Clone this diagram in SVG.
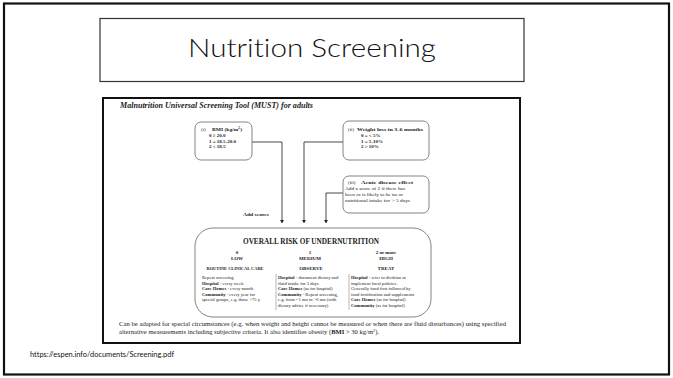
<svg xmlns="http://www.w3.org/2000/svg" width="673" height="378" viewBox="0 0 673 378">
  <style>
    .serif { font-family: "Liberation Serif", "Times New Roman", serif; fill: #222; }
    .sans { font-family: Lato, "Open Sans", "DejaVu Sans", sans-serif; fill: #111; font-variant-ligatures: none; }
    .box { fill: #fff; stroke: #777; stroke-width: 0.9; }
    .wire { fill: none; stroke: #333; stroke-width: 0.9; }
    .b { font-weight: bold; }
    .body { font-size: 4.6px; }
    .hd { font-size: 5px; font-weight: bold; text-anchor: middle; }
  </style>
  <defs>
    <marker id="arrow" viewBox="0 0 6 8" refX="6" refY="4" markerWidth="3.5" markerHeight="5" orient="auto" markerUnits="userSpaceOnUse">
      <path d="M0,0 L6,4 L0,8 Z" fill="#222"/>
    </marker>
  </defs>

  <rect width="673" height="378" fill="#fff"/>
  <!-- slide border -->
  <rect x="4" y="3.5" width="665" height="371" fill="none" stroke="#111" stroke-width="2.2"/>

  <!-- slide title -->
  <g id="title">
    <rect x="100" y="18.5" width="424" height="63" fill="#fff" stroke="#333" stroke-width="1.2"/>
    <text class="sans" x="312" y="57" font-size="26" font-weight="300" text-anchor="middle" textLength="248" lengthAdjust="spacingAndGlyphs">Nutrition Screening</text>
  </g>

  <!-- MUST figure frame -->
  <g id="must-frame">
    <rect x="103" y="98" width="417" height="245" fill="#fff" stroke="#111" stroke-width="2"/>
    <text class="serif b" x="120" y="108" font-size="7.4" font-style="italic" textLength="193" lengthAdjust="spacingAndGlyphs">Malnutrition Universal Screening Tool (MUST) for adults</text>
  </g>

  <g id="connectors">
    <path class="wire" d="M252,142 H282 V223" marker-end="url(#arrow)"/>
    <path class="wire" d="M343,142 H304 V223" marker-end="url(#arrow)"/>
    <path class="wire" d="M343,193 H326 V223" marker-end="url(#arrow)"/>
    <text class="serif b" x="243" y="216" font-size="5" textLength="26" lengthAdjust="spacingAndGlyphs">Add scores</text>
  </g>

  <g id="bmi">
    <rect class="box" x="195" y="122" width="57" height="38" rx="6"/>
    <text class="serif" x="201" y="131" font-size="5">(i)</text>
    <text class="serif b" x="212" y="131" font-size="5" textLength="30" lengthAdjust="spacingAndGlyphs">BMI (kg/m<tspan font-size="3.2" dy="-1.8">2</tspan><tspan dy="1.8">)</tspan></text>
    <text class="serif b" x="209" y="137" font-size="5">0 ≥ 20.0</text>
    <text class="serif b" x="209" y="142.5" font-size="5">1 = 18.5-20.0</text>
    <text class="serif b" x="209" y="148" font-size="5">2 &lt; 18.5</text>
  </g>

  <g id="weight-loss">
    <rect class="box" x="343" y="121" width="86" height="39" rx="6"/>
    <text class="serif" x="348" y="131" font-size="5">(ii)</text>
    <text class="serif b" x="357" y="131" font-size="5" textLength="66" lengthAdjust="spacingAndGlyphs">Weight loss in 3-6 months</text>
    <text class="serif b" x="361" y="137" font-size="5">0 = &lt; 5%</text>
    <text class="serif b" x="361" y="142.5" font-size="5">1 = 5-10%</text>
    <text class="serif b" x="361" y="148" font-size="5">2 &gt; 10%</text>
  </g>

  <g id="acute-disease">
    <rect class="box" x="343" y="176" width="86" height="37" rx="6"/>
    <text class="serif" x="348" y="184" font-size="5">(iii)</text>
    <text class="serif b" x="361" y="184" font-size="5" textLength="52" lengthAdjust="spacingAndGlyphs">Acute disease effect</text>
    <text class="serif" x="345" y="190" font-size="5" textLength="60" lengthAdjust="spacingAndGlyphs">Add a score of 2 if there has</text>
    <text class="serif" x="345" y="196" font-size="5" textLength="58" lengthAdjust="spacingAndGlyphs">been or is likely to be no or</text>
    <text class="serif" x="345" y="202" font-size="5" textLength="65" lengthAdjust="spacingAndGlyphs">nutritional intake for &gt; 5 days</text>
  </g>

  <g id="overall-risk">
    <rect class="box" x="195" y="228" width="236" height="89" rx="18"/>
    <text class="serif b" x="311" y="244" font-size="7.2" text-anchor="middle" textLength="136" lengthAdjust="spacingAndGlyphs">OVERALL RISK OF UNDERNUTRITION</text>

    <text class="serif hd" x="237" y="254">0</text>
    <text class="serif hd" x="237" y="260">LOW</text>
    <text class="serif hd" x="235" y="270" textLength="57" lengthAdjust="spacingAndGlyphs">ROUTINE CLINICAL CARE</text>

    <text class="serif hd" x="310" y="254">1</text>
    <text class="serif hd" x="310" y="260">MEDIUM</text>
    <text class="serif hd" x="311" y="270">OBSERVE</text>

    <text class="serif hd" x="386" y="254">2 or more</text>
    <text class="serif hd" x="386" y="260">HIGH</text>
    <text class="serif hd" x="386" y="270">TREAT</text>

    <line x1="276" y1="274" x2="276" y2="310" stroke="#888" stroke-width="0.6"/>
    <line x1="349" y1="274" x2="349" y2="310" stroke="#888" stroke-width="0.6"/>

    <text class="serif body" x="202" y="279">Repeat screening</text>
    <text class="serif body" x="202" y="284.5"><tspan class="b">Hospital</tspan> - every week</text>
    <text class="serif body" x="202" y="290"><tspan class="b">Care Homes</tspan> - every month</text>
    <text class="serif body" x="202" y="295.5"><tspan class="b">Community</tspan> - every year for</text>
    <text class="serif body" x="202" y="301">special groups, e.g. those &gt;75 y</text>

    <text class="serif body" x="278" y="279"><tspan class="b">Hospital</tspan> - document dietary and</text>
    <text class="serif body" x="278" y="284.5">fluid intake for 3 days</text>
    <text class="serif body" x="278" y="290"><tspan class="b">Care Homes</tspan> (as for hospital)</text>
    <text class="serif body" x="278" y="295.5"><tspan class="b">Community</tspan> - Repeat screening,</text>
    <text class="serif body" x="278" y="301">e.g. from &lt;1 mo to &gt;6 mo (with</text>
    <text class="serif body" x="278" y="306.5">dietary advice if necessary)</text>

    <text class="serif body" x="351" y="279"><tspan class="b">Hospital</tspan> - refer to dietitian or</text>
    <text class="serif body" x="351" y="284.5">implement local policies.</text>
    <text class="serif body" x="351" y="290">Generally food first followed by</text>
    <text class="serif body" x="351" y="295.5">food fortification and supplements</text>
    <text class="serif body" x="351" y="301"><tspan class="b">Care Homes</tspan> (as for hospital)</text>
    <text class="serif body" x="351" y="306.5"><tspan class="b">Community</tspan> (as for hospital)</text>
  </g>

  <g id="footnote">
    <text class="serif" x="119" y="326" font-size="6.2" textLength="387" lengthAdjust="spacingAndGlyphs">Can be adapted for special circumstances (e.g. when weight and height cannot be measured or when there are fluid disturbances) using specified</text>
    <text class="serif" x="119" y="334" font-size="6.2" textLength="260" lengthAdjust="spacingAndGlyphs">alternative measurements including subjective criteria. It also identifies obesity (<tspan class="b">BMI</tspan> &gt; 30 kg/m<tspan font-size="4" dy="-2">2</tspan><tspan dy="2">).</tspan></text>
  </g>

  <g id="source">
    <text class="sans" x="30" y="357" font-size="7" textLength="144" lengthAdjust="spacingAndGlyphs">https://espen.info/documents/Screening.pdf</text>
  </g>
</svg>
